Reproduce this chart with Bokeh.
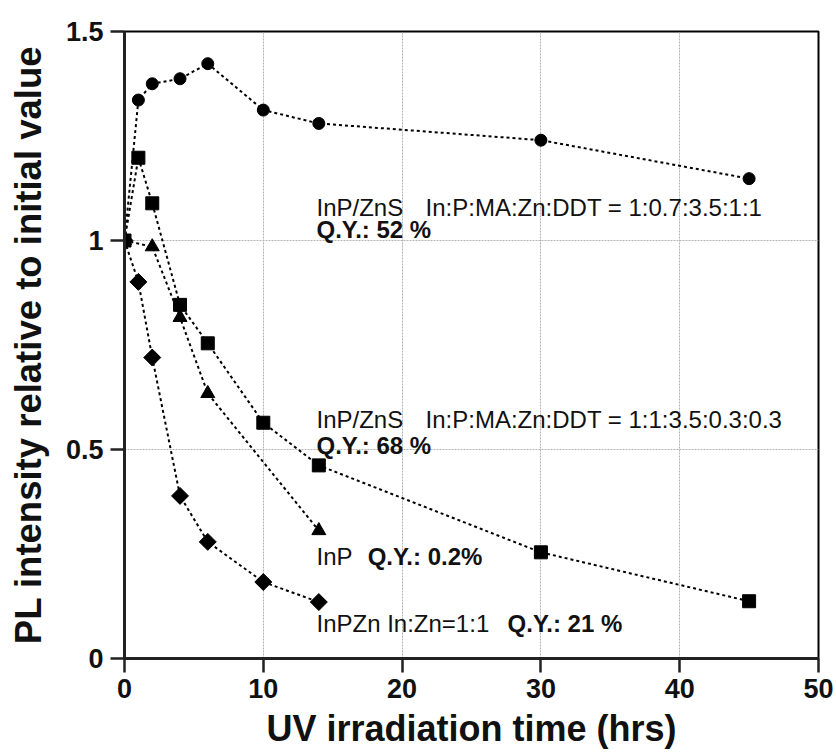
import math
from bokeh.plotting import figure
from bokeh.models import FixedTicker, CustomJSTickFormatter, ColumnDataSource
from bokeh.core.properties import value
from bokeh.embed import file_html
from bokeh.resources import INLINE

# ---- data ----
x_axis_ticks = [0, 10, 20, 30, 40, 50]
y_axis_ticks = [0, 0.5, 1.0, 1.5]

circ_x = [0, 1, 2, 4, 6, 10, 14, 30, 45]
circ_y = [1.0, 1.336, 1.375, 1.387, 1.423, 1.312, 1.280, 1.240, 1.148]

sq_x = [0, 1, 2, 4, 6, 10, 14, 30, 45]
sq_y = [1.0, 1.198, 1.089, 0.846, 0.754, 0.564, 0.462, 0.254, 0.137]

tri_x = [0, 2, 4, 6, 14]
tri_y = [1.0, 0.985, 0.816, 0.634, 0.306]

dia_x = [0, 1, 2, 4, 6, 10, 14]
dia_y = [1.0, 0.901, 0.720, 0.389, 0.279, 0.183, 0.135]

label_texts = ["InP/ZnS", "In:P:MA:Zn:DDT = 1:0.7:3.5:1:1", "Q.Y.: 52 %",
               "InP/ZnS", "In:P:MA:Zn:DDT = 1:1:3.5:0.3:0.3", "Q.Y.: 68 %",
               "InP", "Q.Y.: 0.2%",
               "InPZn In:Zn=1:1", "Q.Y.: 21 %"]
label_bold = [False, False, True, False, False, True, False, True, False, True]

# annotation anchor positions (data coordinates)
label_x = [13.83, 21.69, 13.83, 13.83, 21.69, 13.83, 13.83, 17.52, 13.83, 27.6]
label_y = [1.079, 1.079, 1.026, 0.572, 0.572, 0.510, 0.243, 0.243, 0.083, 0.083]

FONT = "Liberation Sans"

p = figure(frame_width=694, frame_height=627, x_range=(0, 50), y_range=(0, 1.5),
           output_backend="svg", toolbar_location=None,
           min_border_left=124, min_border_right=18, min_border_top=31, min_border_bottom=97)
p.background_fill_color = "white"
p.border_fill_color = "white"
p.outline_line_color = "black"
p.outline_line_width = 2

# grid
for g in (p.xgrid, p.ygrid):
    g.grid_line_color = "#b4b4b4"
    g.grid_line_width = 1
    g.grid_line_dash = "2 1"
p.xgrid.ticker = FixedTicker(ticks=x_axis_ticks)
p.ygrid.ticker = FixedTicker(ticks=y_axis_ticks)

# axes
p.xaxis.ticker = FixedTicker(ticks=x_axis_ticks)
p.yaxis.ticker = FixedTicker(ticks=y_axis_ticks)
p.yaxis.formatter = CustomJSTickFormatter(code="return tick.toString();")
for ax in (p.xaxis[0], p.yaxis[0]):
    ax.axis_line_width = 3
    ax.axis_line_color = "#222222"
    ax.major_tick_line_width = 2.5
    ax.major_tick_line_color = "#222222"
    ax.major_tick_out = 14
    ax.major_tick_in = 0
    ax.minor_tick_line_color = None
    ax.major_label_text_font = FONT
    ax.major_label_text_font_style = "bold"
    ax.major_label_text_font_size = "27px"
    ax.major_label_text_color = "#111111"
    ax.axis_label_text_font = FONT
    ax.axis_label_text_font_style = "bold"
    ax.axis_label_text_color = "#111111"
p.xaxis.axis_label = "UV irradiation time (hrs)"
p.yaxis.axis_label = "PL intensity relative to initial value"
p.xaxis.axis_label_text_font_size = "36px"
p.yaxis.axis_label_text_font_size = "36.5px"
p.xaxis.major_label_standoff = 6
p.yaxis.major_label_standoff = 7
p.xaxis.axis_label_standoff = 7
p.yaxis.axis_label_standoff = 14

LINE = dict(line_color="black", line_width=2, line_dash="3 3")

p.line(circ_x, circ_y, **LINE)
p.line(sq_x, sq_y, **LINE)
p.line(tri_x, tri_y, **LINE)
p.line(dia_x, dia_y, **LINE)

p.scatter(circ_x, circ_y, marker="circle", size=12, fill_color="black", line_color="black")
p.scatter(sq_x, sq_y, marker="square", size=13, fill_color="black", line_color="black")
p.scatter(tri_x, tri_y, marker="triangle", size=14, fill_color="black", line_color="black")
p.scatter(dia_x, dia_y, marker="square", size=12, angle=math.pi / 4,
          fill_color="black", line_color="black")

normal = ColumnDataSource(dict(
    x=[x for x, b in zip(label_x, label_bold) if not b],
    y=[y for y, b in zip(label_y, label_bold) if not b],
    t=[t for t, b in zip(label_texts, label_bold) if not b]))
bold = ColumnDataSource(dict(
    x=[x for x, b in zip(label_x, label_bold) if b],
    y=[y for y, b in zip(label_y, label_bold) if b],
    t=[t for t, b in zip(label_texts, label_bold) if b]))

p.text(x="x", y="y", text="t", source=normal, text_font=value(FONT),
       text_font_size="24px", text_align="left", text_baseline="middle", text_color="#111111")
p.text(x="x", y="y", text="t", source=bold, text_font=value(FONT), text_font_style="bold",
       text_font_size="24px", text_align="left", text_baseline="middle", text_color="#111111")

open("out.html", "w").write(file_html(p, INLINE))
